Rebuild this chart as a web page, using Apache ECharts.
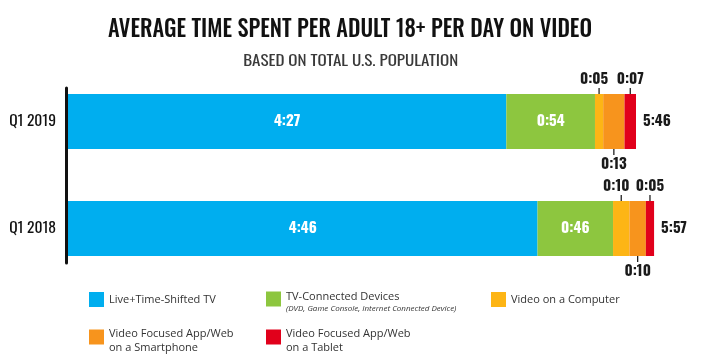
<!DOCTYPE html>
<html><head><meta charset="utf-8">
<script src="https://cdn.jsdelivr.net/npm/echarts@6/dist/echarts.min.js"></script>
<style>html,body{margin:0;padding:0;background:#fff}#c{width:720px;height:361px}</style>
</head><body><div id="c"></div>
<script>
// ---- data (minutes per day) ----
const categories = ['Q1 2019', 'Q1 2018'];
const liveTV = [267, 286];
const tvConnected = [54, 46];
const computer = [5, 10];
const smartphone = [13, 10];
const tablet = [7, 5];
const seriesNames = ['Live+Time-Shifted TV', 'TV-Connected Devices', 'Video on a Computer',
  'Video Focused App/Web on a Smartphone', 'Video Focused App/Web on a Tablet'];
const colors = ['#00aeef', '#8dc63f', '#fdb515', '#f7941d', '#e1001b'];
const titleText = 'AVERAGE TIME SPENT PER ADULT 18+ PER DAY ON VIDEO';
const subtitleText = 'BASED ON TOTAL U.S. POPULATION';

const COND = 'Oswald, "Roboto Condensed", "DejaVu Sans Condensed", sans-serif';
function fmt(m) { const h = Math.floor(m / 60), mm = m % 60; return h + ':' + (mm < 10 ? '0' : '') + mm; }
function measure(text, font) { const c = document.createElement('canvas').getContext('2d'); c.font = font; return c.measureText(text).width; }
const totals = categories.map((_, i) => liveTV[i] + tvConnected[i] + computer[i] + smartphone[i] + tablet[i]);

const titleFont = '500 24px ' + COND;
const subFont = '15px ' + COND;
const titleScale = 484 / measure(titleText, titleFont);
const subScale = 215 / measure(subtitleText, subFont);

const rich = {
  v: { fontFamily: COND, fontWeight: 'bold', fontSize: 15, color: '#1a1a1a', lineHeight: 18, align: 'center' },
  vl: { fontFamily: COND, fontWeight: 'bold', fontSize: 15, color: '#1a1a1a', lineHeight: 18, align: 'center', padding: [0, 10, 0, 0] },
  t: { width: 1.3, height: 6, lineHeight: 6, fontSize: 1, backgroundColor: '#222', align: 'center' }
};
function topLabel(style) { return p => '{' + style + '|' + fmt(p.value) + '}\n{t| }'; }
function bottomLabel(p) { return '{t| }\n{v|' + fmt(p.value) + '}'; }

const inside = { show: true, position: 'inside', color: '#fff', fontFamily: COND, fontWeight: 'bold', fontSize: 15, formatter: p => fmt(p.value) };
const base = { type: 'bar', stack: 'a', barWidth: 55, xAxisIndex: 0, yAxisIndex: 0, silent: true };

const OPEN = '"Open Sans", sans-serif';
function legendItem(extra, pad) {
  return Object.assign({
    icon: 'rect', itemWidth: 15, itemHeight: 15, padding: 0, selectedMode: false,
    itemStyle: { borderWidth: 0 },
    textStyle: { fontFamily: OPEN, fontSize: 11, color: '#333', padding: pad,
      rich: {
        a: { fontFamily: OPEN, fontSize: 11, color: '#333', lineHeight: 14 },
        b: { fontFamily: OPEN, fontSize: 8, fontStyle: 'italic', color: '#333', lineHeight: 11 }
      } }
  }, extra);
}

const chart = echarts.init(document.getElementById('c'), null, { renderer: 'canvas' });
chart.setOption({
  animation: false,
  backgroundColor: '#fff',
  color: colors,
  graphic: [
    { type: 'text', x: 350, y: 30, scaleX: titleScale, silent: true,
      style: { text: titleText, font: titleFont, fill: '#111', align: 'center', verticalAlign: 'middle' } },
    { type: 'text', x: 350.7, y: 61, scaleX: subScale, silent: true,
      style: { text: subtitleText, font: subFont, fill: '#3a3a3a', align: 'center', verticalAlign: 'middle' } }
  ],
  legend: [
    legendItem({ data: [seriesNames[0]], left: 89, top: 292 }, 0),
    legendItem({ data: [seriesNames[1]], left: 266, top: 291,
      formatter: () => '{a|TV-Connected Devices}\n{b|(DVD, Game Console, Internet Connected Device)}' }, [6, 0, 0, 0]),
    legendItem({ data: [seriesNames[2]], left: 491, top: 292 }, 0),
    legendItem({ data: [seriesNames[3]], left: 89, top: 328,
      formatter: () => '{a|Video Focused App/Web}\n{a|on a Smartphone}' }, [7, 0, 0, 0]),
    legendItem({ data: [seriesNames[4]], left: 266, top: 328,
      formatter: () => '{a|Video Focused App/Web}\n{a|on a Tablet}' }, [7, 0, 0, 0])
  ],
  grid: [
    { left: 68, right: 61, top: 68, height: 214, outerBoundsMode: 'none', containLabel: false },
    { left: 66, width: 100, top: 88, height: 175, outerBoundsMode: 'none', containLabel: false }
  ],
  xAxis: [
    { gridIndex: 0, type: 'value', min: 0, max: 360, show: false },
    { gridIndex: 1, type: 'value', min: 0, max: 1, show: false }
  ],
  yAxis: [
    { gridIndex: 0, type: 'category', data: categories, inverse: true,
      axisLine: { show: false }, axisTick: { show: false }, splitLine: { show: false },
      axisLabel: { margin: 12, fontFamily: COND, fontSize: 15.5, color: '#111' } },
    { gridIndex: 1, type: 'value', min: 0, max: 1,
      axisLine: { show: true, onZero: false, lineStyle: { color: '#111', width: 3 } },
      axisLabel: { show: false }, axisTick: { show: false }, splitLine: { show: false } }
  ],
  series: [
    Object.assign({}, base, { name: seriesNames[0], data: liveTV, label: inside }),
    Object.assign({}, base, { name: seriesNames[1], data: tvConnected, label: inside }),
    Object.assign({}, base, { name: seriesNames[2], data: computer,
      label: { show: true, position: 'top', distance: 0, formatter: topLabel('vl'), rich: rich } }),
    Object.assign({}, base, { name: seriesNames[3], data: smartphone,
      label: { show: true, position: 'bottom', distance: 0, formatter: bottomLabel, rich: rich } }),
    Object.assign({}, base, { name: seriesNames[4], data: tablet,
      label: { show: true, position: 'top', distance: 0, formatter: topLabel('v'), rich: rich } }),
    Object.assign({}, base, { name: 'Total', data: totals.map(() => 0),
      itemStyle: { color: 'rgba(0,0,0,0)' },
      label: { show: true, position: 'right', distance: 7, color: '#1a1a1a', fontFamily: COND, fontWeight: 'bold', fontSize: 15,
        formatter: p => fmt(totals[p.dataIndex]) } })
  ]
});
</script>
</body></html>
